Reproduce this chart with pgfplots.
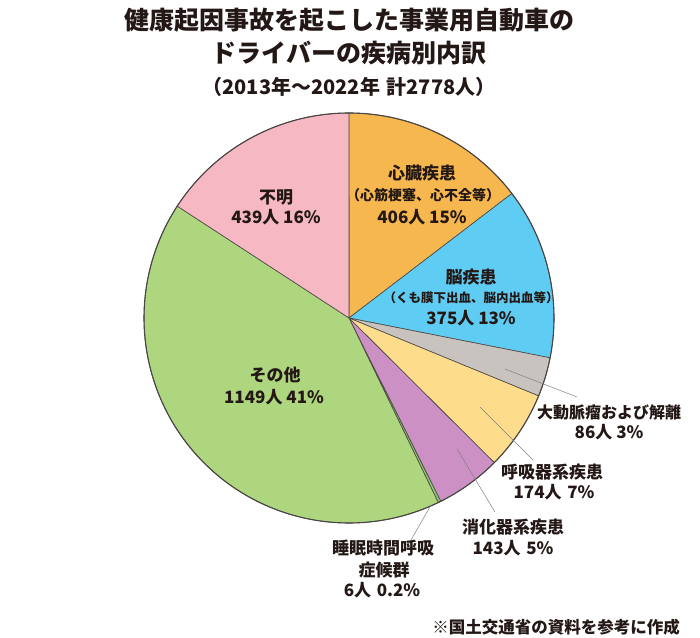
\documentclass[border=0pt]{standalone}
\usepackage{pgfplots}
\pgfplotsset{compat=1.18}
\usepackage{pgfplotstable}
\usepackage{fontspec}
\newfontfamily\jp{Noto Sans CJK JP}
\newfontfamily\jpm{Noto Sans CJK JP Medium}

\definecolor{txt}{HTML}{231815}
\definecolor{edge}{HTML}{4A4645}
\definecolor{cHeart}{HTML}{F6B84E}
\definecolor{cBrain}{HTML}{5FCDF3}
\definecolor{cAorta}{HTML}{C9C3C0}
\definecolor{cResp}{HTML}{FDDC8B}
\definecolor{cDigest}{HTML}{CD90C4}
\definecolor{cSleep}{HTML}{8DC26F}
\definecolor{cOther}{HTML}{AED67F}
\definecolor{cUnknown}{HTML}{F6B9C3}

\pgfplotstableread{
key count
heart 406
brain 375
aorta 86
resp 174
digest 143
sleep 6
other 1149
unknown 439
}\piedata

\pgfplotstablegetelem{0}{count}\of\piedata\let\cA\pgfplotsretval
\pgfplotstablegetelem{1}{count}\of\piedata\let\cB\pgfplotsretval
\pgfplotstablegetelem{2}{count}\of\piedata\let\cC\pgfplotsretval
\pgfplotstablegetelem{3}{count}\of\piedata\let\cD\pgfplotsretval
\pgfplotstablegetelem{4}{count}\of\piedata\let\cE\pgfplotsretval
\pgfplotstablegetelem{5}{count}\of\piedata\let\cF\pgfplotsretval
\pgfplotstablegetelem{6}{count}\of\piedata\let\cG\pgfplotsretval
\pgfplotstablegetelem{7}{count}\of\piedata\let\cH\pgfplotsretval
\pgfmathsetmacro\total{\cA+\cB+\cC+\cD+\cE+\cF+\cG+\cH}
\pgfmathsetmacro\tA{90}
\pgfmathsetmacro\tB{\tA-\cA/\total*360}
\pgfmathsetmacro\tC{\tB-\cB/\total*360}
\pgfmathsetmacro\tD{\tC-\cC/\total*360}
\pgfmathsetmacro\tE{\tD-\cD/\total*360}
\pgfmathsetmacro\tF{\tE-\cE/\total*360}
\pgfmathsetmacro\tG{\tF-\cF/\total*360}
\pgfmathsetmacro\tH{\tG-\cG/\total*360}
\pgfmathsetmacro\tI{\tH-\cH/\total*360}
\def\R{205}

\begin{document}
\begin{tikzpicture}
\begin{axis}[
  scale only axis, width=700pt, height=637pt,
  xmin=-349, xmax=351, ymin=-319, ymax=318,
  hide axis, clip=false,
  every axis plot/.append style={data cs=polar, samples=120, line join=round},
]
\path[draw=none] (rel axis cs:0,0) rectangle (rel axis cs:1,1);
\addplot[fill=cHeart,   draw=edge, line width=0.6pt, domain=\tB:\tA] (x,\R) -- (axis cs:0,0) -- cycle;
\addplot[fill=cBrain,   draw=edge, line width=0.6pt, domain=\tC:\tB] (x,\R) -- (axis cs:0,0) -- cycle;
\addplot[fill=cAorta,   draw=edge, line width=0.6pt, domain=\tD:\tC] (x,\R) -- (axis cs:0,0) -- cycle;
\addplot[fill=cResp,    draw=edge, line width=0.6pt, domain=\tE:\tD] (x,\R) -- (axis cs:0,0) -- cycle;
\addplot[fill=cDigest,  draw=edge, line width=0.6pt, domain=\tF:\tE] (x,\R) -- (axis cs:0,0) -- cycle;
\addplot[fill=cSleep,   draw=edge, line width=0.6pt, domain=\tG:\tF, samples=10] (x,\R) -- (axis cs:0,0) -- cycle;
\addplot[fill=cOther,   draw=edge, line width=0.6pt, domain=\tH:\tG] (x,\R) -- (axis cs:0,0) -- cycle;
\addplot[fill=cUnknown, draw=edge, line width=0.6pt, domain=\tI:\tH] (x,\R) -- (axis cs:0,0) -- cycle;
\addplot[draw=edge, line width=1.1pt, domain=0:360, samples=300] (x,\R);

% leader lines
\addplot[gray, line width=0.5pt, data cs=cart] coordinates {(156,-51) (228,-79)};
\addplot[gray, line width=0.5pt, data cs=cart] coordinates {(131,-89) (184,-142)};
\addplot[gray, line width=0.5pt, data cs=cart] coordinates {(108,-131) (146,-194)};
\addplot[gray, line width=0.5pt, data cs=cart] coordinates {(82,-187) (58,-229)};

% title
\node[font=\jp\bfseries\fontsize{25}{25}\selectfont, text=txt] at (axis cs:0,298) {健康起因事故を起こした事業用自動車の};
\node[font=\jp\bfseries\fontsize{25}{25}\selectfont, text=txt] at (axis cs:0,265) {ドライバーの疾病別内訳};
\node[font=\jp\bfseries\fontsize{20}{20}\selectfont, text=txt] at (axis cs:0,231) {（2013年～2022年\,\,計2778人）};

% inside labels
\begin{scope}[every node/.style={font=\jp\bfseries\fontsize{17}{17}\selectfont, text=txt, inner sep=0pt}]
\node at (axis cs:73,145) {心臓疾患};
\node[font=\jp\bfseries\fontsize{14}{14}\selectfont] at (axis cs:74,123) {（心筋梗塞、心不全等）};
\node at (axis cs:73,101) {406人 15\%};
\node at (axis cs:122,41) {脳疾患};
\node[font=\jp\bfseries\fontsize{12.5}{12.5}\selectfont] at (axis cs:122,20) {（くも膜下出血、脳内出血等）};
\node at (axis cs:122,0) {375人 13\%};
\node at (axis cs:-73,121) {不明};
\node at (axis cs:-73,101) {439人 16\%};
\node at (axis cs:-74,-57) {その他};
\node at (axis cs:-75,-79) {1149人 41\%};
\node[font=\jp\bfseries\fontsize{16}{16}\selectfont] at (axis cs:260,-94) {大動脈瘤および解離};
\node at (axis cs:260,-114) {86人 3\%};
\node at (axis cs:203,-154) {呼吸器系疾患};
\node at (axis cs:205,-174) {174人\,\,7\%};
\node at (axis cs:164,-209) {消化器系疾患};
\node at (axis cs:164,-230) {143人\,\,5\%};
\node at (axis cs:34,-230) {睡眠時間呼吸};
\node at (axis cs:35,-252) {症候群};
\node at (axis cs:33,-272) {6人\,\,0.2\%};
\node[anchor=east, font=\jp\bfseries\fontsize{16.5}{16.5}\selectfont] at (axis cs:331,-309) {※国土交通省の資料を参考に作成};
\end{scope}
\end{axis}
\end{tikzpicture}
\end{document}
